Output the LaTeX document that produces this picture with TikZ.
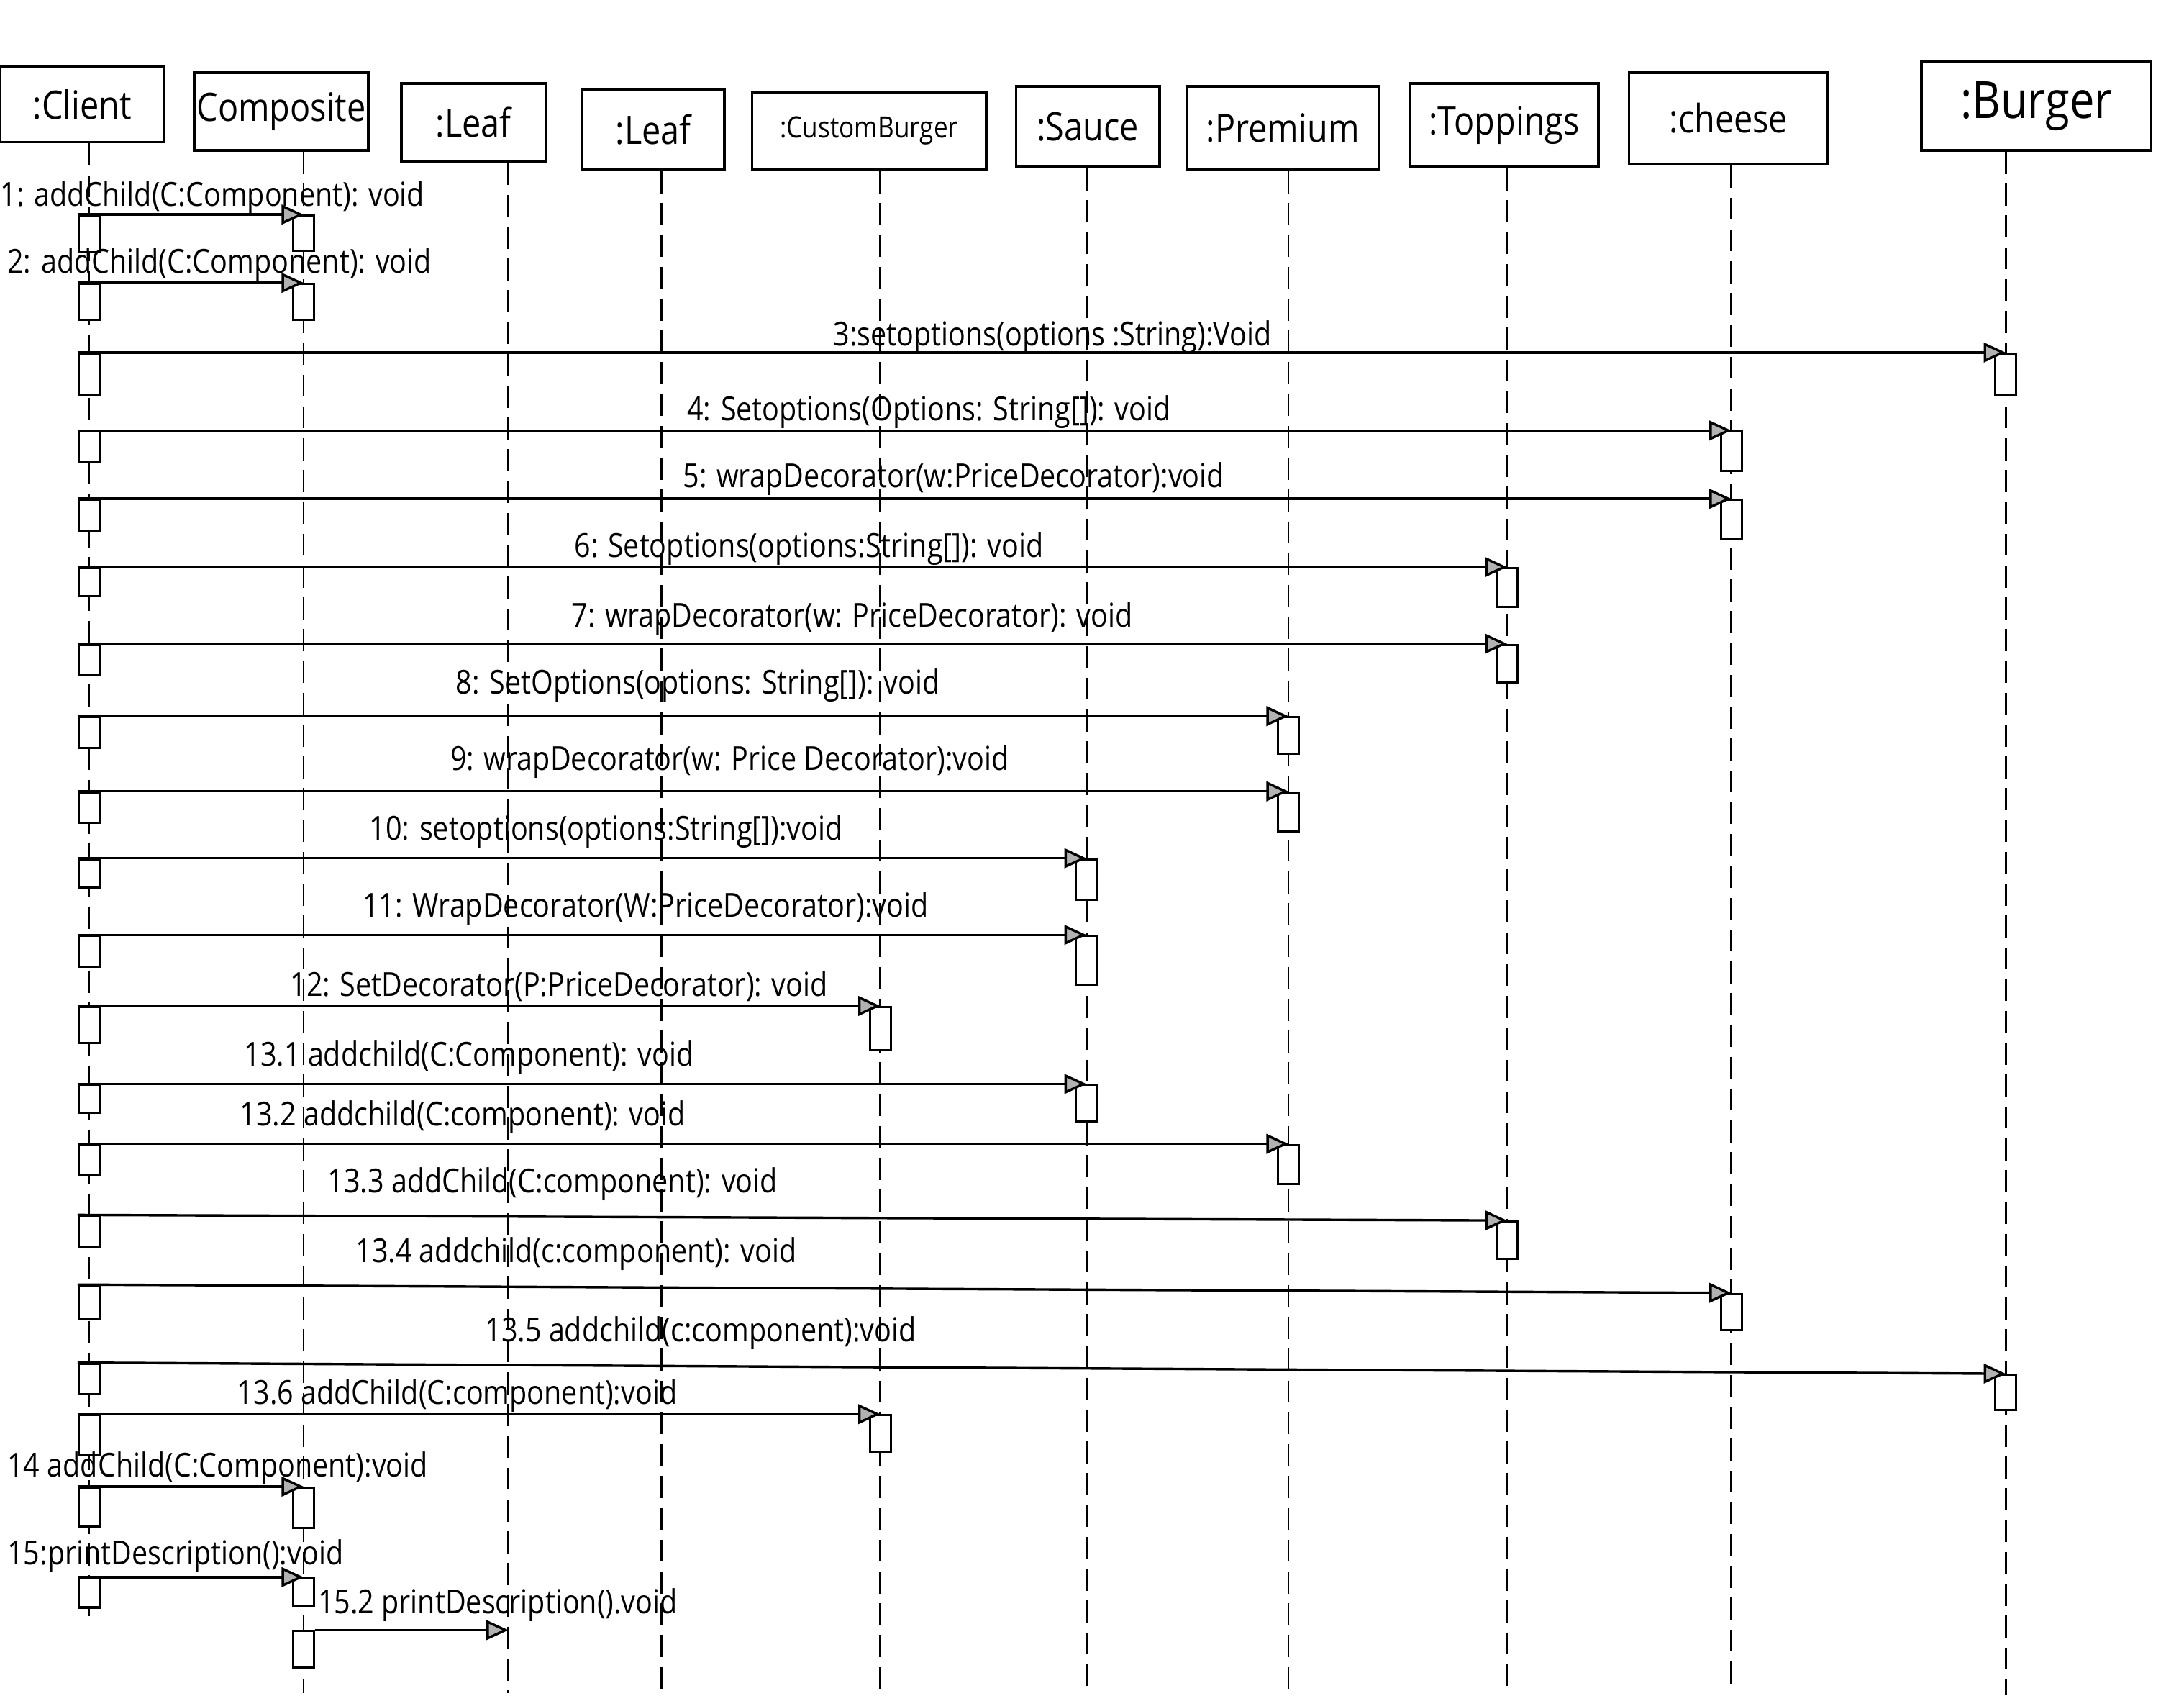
\documentclass[tikz,border=0pt]{standalone}
\usepackage{fontspec}
\setmainfont[FakeStretch=0.86]{Open Sans}
\usetikzlibrary{positioning,arrows.meta}

\begin{document}
\begin{tikzpicture}[
  x=0.02cm, y=-0.02cm,
  objbox/.style={draw, line width=1.1pt, inner sep=0pt, font=\fontsize{16}{18}\selectfont},
  act/.style={draw, line width=0.9pt, fill=white, minimum width=0.3cm, inner sep=0pt, anchor=north},
  lifeline/.style={line width=0.8pt, dash pattern=on 9pt off 4pt},
  msg/.style={line width=1pt, -{Triangle[length=9pt,width=8pt,fill=gray!60]}},
  lbl/.style={anchor=base west, font=\fontsize{13.5}{15}\selectfont, inner sep=0pt}
]
\useasboundingbox (0,0) rectangle (1568,1217);
% ---- Lifeline x positions ----
\def\xClient{64}
\def\xComp{218}
\def\xLeafA{365}
\def\xLeafB{475}
\def\xCustom{632}
\def\xSauce{780}
\def\xPremium{925}
\def\xToppings{1082}
\def\xCheese{1243}
\def\xBurger{1440}

% ---- Object boxes ----
\node[objbox, minimum width=2.36cm, minimum height=1.08cm] (client) at (59,75) {:Client};
\node[objbox, minimum width=2.5cm, minimum height=1.12cm] (composite) at (202,80) {Composite};
\node[objbox, minimum width=2.08cm, minimum height=1.12cm] (leafA) at (340,88) {:Leaf};
\node[objbox, minimum width=2.04cm, minimum height=1.16cm] (leafB) at (469,93) {:Leaf};
\node[objbox, minimum width=3.36cm, minimum height=1.12cm, font=\fontsize{12}{14}\selectfont] (custom) at (624,94) {:CustomBurger};
\node[objbox, minimum width=2.06cm, minimum height=1.16cm] (sauce) at (781,91) {:Sauce};
\node[objbox, minimum width=2.76cm, minimum height=1.2cm] (premium) at (921,92) {:Premium};
\node[objbox, minimum width=2.7cm, minimum height=1.2cm] (toppings) at (1080,90) {:Toppings};
\node[objbox, minimum width=2.86cm, minimum height=1.32cm] (cheese) at (1241,85) {:cheese};
\node[objbox, minimum width=3.3cm, minimum height=1.28cm, font=\fontsize{21}{24}\selectfont] (burger) at (1462,76) {:Burger};

% ---- Lifelines ----
\coordinate (clientEnd) at (\xClient,1160);
\coordinate (compEnd) at (\xComp,1215);
\coordinate (leafAEnd) at (\xLeafA,1215);
\coordinate (leafBEnd) at (\xLeafB,1215);
\coordinate (customEnd) at (\xCustom,1215);
\coordinate (sauceEnd) at (\xSauce,1215);
\coordinate (premiumEnd) at (\xPremium,1215);
\coordinate (toppingsEnd) at (\xToppings,1215);
\coordinate (cheeseEnd) at (\xCheese,1215);
\coordinate (burgerEnd) at (\xBurger,1217);
\draw[lifeline] (client.south -| clientEnd) -- (clientEnd);
\draw[lifeline] (composite.south -| compEnd) -- (compEnd);
\draw[lifeline] (leafA.south -| leafAEnd) -- (leafAEnd);
\draw[lifeline] (leafB.south -| leafBEnd) -- (leafBEnd);
\draw[lifeline] (custom.south -| customEnd) -- (customEnd);
\draw[lifeline] (sauce.south -| sauceEnd) -- (sauceEnd);
\draw[lifeline] (premium.south -| premiumEnd) -- (premiumEnd);
\draw[lifeline] (toppings.south -| toppingsEnd) -- (toppingsEnd);
\draw[lifeline] (cheese.south -| cheeseEnd) -- (cheeseEnd);
\draw[lifeline] (burger.south -| burgerEnd) -- (burgerEnd);

% ---- Messages: source activation, target activation, arrow, label ----
% 1-2: Client -> Composite
\node[act, minimum height=0.52cm] (s1) at (\xClient,154) {};
\node[act, minimum height=0.5cm] (t1) at (\xComp,154) {};
\draw[msg] (s1.north west) -- (t1.north);
\node[lbl] at (0,148) {1: addChild(C:Component): void};

\node[act, minimum height=0.52cm] (s2) at (\xClient,203) {};
\node[act, minimum height=0.52cm] (t2) at (\xComp,203) {};
\draw[msg] (s2.north west) -- (t2.north);
\node[lbl] at (5,196) {2: addChild(C:Component): void};

% 3: Client -> Burger
\node[act, minimum height=0.6cm] (s3) at (\xClient,253) {};
\node[act, minimum height=0.6cm] (t3) at (\xBurger,253) {};
\draw[msg] (s3.north west) -- (t3.north);
\node[lbl] at (598,248) {3:setoptions(options :String):Void};

% 4-5: Client -> cheese
\node[act, minimum height=0.44cm] (s4) at (\xClient,309) {};
\node[act, minimum height=0.56cm] (t4) at (\xCheese,309) {};
\draw[msg] (s4.north west) -- (t4.north);
\node[lbl] at (493,302) {4: Setoptions(Options: String[]): void};

\node[act, minimum height=0.44cm] (s5) at (\xClient,358) {};
\node[act, minimum height=0.56cm] (t5) at (\xCheese,358) {};
\draw[msg] (s5.north west) -- (t5.north);
\node[lbl] at (490,350) {5: wrapDecorator(w:PriceDecorator):void};

% 6-7: Client -> Toppings
\node[act, minimum height=0.4cm] (s6) at (\xClient,407) {};
\node[act, minimum height=0.56cm] (t6) at (\xToppings,407) {};
\draw[msg] (s6.north west) -- (t6.north);
\node[lbl] at (412,400) {6: Setoptions(options:String[]): void};

\node[act, minimum height=0.44cm] (s7) at (\xClient,462) {};
\node[act, minimum height=0.54cm] (t7) at (\xToppings,462) {};
\draw[msg] (s7.north west) -- (t7.north);
\node[lbl] at (410,450) {7: wrapDecorator(w: PriceDecorator): void};

% 8-9: Client -> Premium
\node[act, minimum height=0.44cm] (s8) at (\xClient,514) {};
\node[act, minimum height=0.52cm] (t8) at (\xPremium,514) {};
\draw[msg] (s8.north west) -- (t8.north);
\node[lbl] at (327,498) {8: SetOptions(options: String[]): void};

\node[act, minimum height=0.44cm] (s9) at (\xClient,568) {};
\node[act, minimum height=0.56cm] (t9) at (\xPremium,568) {};
\draw[msg] (s9.north west) -- (t9.north);
\node[lbl] at (323,553) {9: wrapDecorator(w: Price Decorator):void};

% 10-11: Client -> Sauce
\node[act, minimum height=0.4cm] (s10) at (\xClient,616) {};
\node[act, minimum height=0.58cm] (t10) at (\xSauce,616) {};
\draw[msg] (s10.north west) -- (t10.north);
\node[lbl] at (265,603) {10: setoptions(options:String[]):void};

\node[act, minimum height=0.44cm] (s11) at (\xClient,671) {};
\node[act, minimum height=0.7cm] (t11) at (\xSauce,671) {};
\draw[msg] (s11.north west) -- (t11.north);
\node[lbl] at (260,658) {11: WrapDecorator(W:PriceDecorator):void};

% 12: Client -> CustomBurger
\node[act, minimum height=0.52cm] (s12) at (\xClient,722) {};
\node[act, minimum height=0.62cm] (t12) at (\xCustom,722) {};
\draw[msg] (s12.north west) -- (t12.north);
\node[lbl] at (208,715) {12: SetDecorator(P:PriceDecorator): void};

% 13.x: addchild to every decorator
\node[act, minimum height=0.4cm] (s131) at (\xClient,778) {};
\node[act, minimum height=0.52cm] (t131) at (\xSauce,778) {};
\draw[msg] (s131.north west) -- (t131.north);
\node[lbl] at (175,765) {13.1 addchild(C:Component): void};

\node[act, minimum height=0.44cm] (s132) at (\xClient,821) {};
\node[act, minimum height=0.56cm] (t132) at (\xPremium,821) {};
\draw[msg] (s132.north west) -- (t132.north);
\node[lbl] at (172,808) {13.2 addchild(C:component): void};

\node[act, minimum height=0.44cm] (s133) at (\xClient,872) {};
\node[act, minimum height=0.54cm] (t133) at (\xToppings,876) {};
\draw[msg] (s133.north west) -- (t133.north);
\node[lbl] at (235,856) {13.3 addChild(C:component): void};

\node[act, minimum height=0.48cm] (s134) at (\xClient,922) {};
\node[act, minimum height=0.52cm] (t134) at (\xCheese,928) {};
\draw[msg] (s134.north west) -- (t134.north);
\node[lbl] at (255,906) {13.4 addchild(c:component): void};

\node[act, minimum height=0.44cm] (s135) at (\xClient,978) {};
\node[act, minimum height=0.5cm] (t135) at (\xBurger,986) {};
\draw[msg] (s135.north west) -- (t135.north);
\node[lbl] at (348,963) {13.5 addchild(c:component):void};

\node[act, minimum height=0.56cm] (s136) at (\xClient,1015) {};
\node[act, minimum height=0.52cm] (t136) at (\xCustom,1015) {};
\draw[msg] (s136.north west) -- (t136.north);
\node[lbl] at (170,1008) {13.6 addChild(C:component):void};

% 14-15: Client -> Composite
\node[act, minimum height=0.56cm] (s14) at (\xClient,1067) {};
\node[act, minimum height=0.58cm] (t14) at (\xComp,1067) {};
\draw[msg] (s14.north west) -- (t14.north);
\node[lbl] at (5,1060) {14 addChild(C:Component):void};

\node[act, minimum height=0.42cm] (s15) at (\xClient,1132) {};
\node[act, minimum height=0.4cm] (t15) at (\xComp,1132) {};
\draw[msg] (s15.north west) -- (t15.north);
\node[lbl] at (5,1123) {15:printDescription():void};

% 15.2: Composite -> Leaf (no activation drawn)
\node[act, minimum height=0.52cm] (s152) at (\xComp,1170) {};
\coordinate (t152) at (\xLeafA,1170);
\draw[msg] (s152.north east) -- (t152);
\node[lbl] at (228,1158) {15.2 printDescription().void};

\end{tikzpicture}
\end{document}
